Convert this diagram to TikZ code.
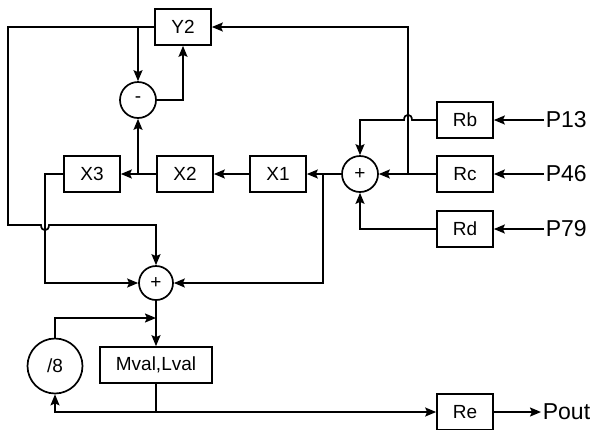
\documentclass[tikz,border=0pt]{standalone}
\usepackage{fontspec}
\setmainfont{Liberation Sans}
\usetikzlibrary{arrows.meta, positioning, calc}

\begin{document}
\begin{tikzpicture}[x=1pt, y=1pt, line width=1.7pt,
        font=\fontsize{19}{22}\selectfont,
        box/.style={rectangle, draw, line width=1.7pt, minimum width=56pt, minimum height=36pt,
                    inner sep=2pt},
        sumnode/.style={circle, draw, line width=1.7pt, minimum size=36pt, inner sep=0pt},
        port/.style={inner sep=1pt, font=\fontsize{23}{26}\selectfont},
        arr/.style={-{Stealth[length=11pt, width=9pt, inset=2pt]}}
    ]
        \useasboundingbox (0,0) rectangle (596,-429);

        % blocks
        \node[box] (y2) at (183,-27) {Y2};
        \node[sumnode] (minus) at (138,-100) {-};
        \node[box] (x3) at (92,-174) {X3};
        \node[box] (x2) at (185,-174) {X2};
        \node[box] (x1) at (278,-174) {X1};
        \node[sumnode] (sumA) at (360,-174) {+};
        \node[box] (rb) at (465,-120) {Rb};
        \node[box] (rc) at (465,-174) {Rc};
        \node[box] (rd) at (465,-229) {Rd};
        \node[port, anchor=west] (p13) at (544,-120) {P13};
        \node[port, anchor=west] (p46) at (544,-174) {P46};
        \node[port, anchor=west] (p79) at (544,-229) {P79};
        \node[sumnode, minimum size=34pt] (sumB) at (156,-283) {+};
        \node[box, minimum width=112pt] (mval) at (156,-365) {Mval,Lval};
        \node[sumnode, minimum size=55pt] (div8) at (55,-366) {/8};
        \node[box] (re) at (465,-412) {Re};
        \node[port, anchor=west] (pout) at (541,-412) {Pout};

        % inputs
        \draw[arr] (p13.west) -- (rb.east);
        \draw[arr] (p46.west) -- (rc.east);
        \draw[arr] (p79.west) -- (rd.east);
        \draw[arr] (rc.west) -- (sumA.east);
        \draw[arr] (rb.west) -- (412,-120) .. controls (412,-113) and (404,-113) .. (404,-120)
            -| (sumA.north);
        \draw[arr] (rd.west) -| (sumA.south);
        \coordinate (tapY) at (408,-174);
        \draw[arr] (tapY) |- (y2.east);

        % forward chain
        \draw[arr] (sumA.west) -- (x1.east);
        \draw[arr] (x1.west) -- (x2.east);
        \draw[arr] (x2.west) -- (x3.east);
        \coordinate (tapM) at (minus.south |- x2.west);
        \draw[arr] (tapM) -- (minus.south);
        \coordinate (tapY2) at (minus.north |- y2.west);
        \draw[arr] (tapY2) -- (minus.north);
        \draw[arr] (minus.east) -| (y2.south);
        \coordinate (tapS) at (323,-174);
        \draw[arr] (tapS) |- (sumB.east);

        % into lower sum
        \draw[arr] (y2.west) -| (8,-225) -- (41,-225) .. controls (41,-232) and (49,-232) .. (49,-225)
            -| (sumB.north);
        \draw[arr] (x3.west) -- (45,-174) |- (sumB.west);
        \draw[arr] (sumB.south) -- (mval.north);

        % output and feedback
        \coordinate (fb) at (sumB.south |- 0,-318);
        \draw[arr] (div8.north) |- (fb);
        \coordinate (split) at (mval.south |- re.west);
        \draw (mval.south) -- (split);
        \draw[arr] (split) -| (div8.south);
        \draw[arr] (split) -- (re.west);
        \draw[arr] (re.east) -- (pout.west);
    \end{tikzpicture}
\end{document}
